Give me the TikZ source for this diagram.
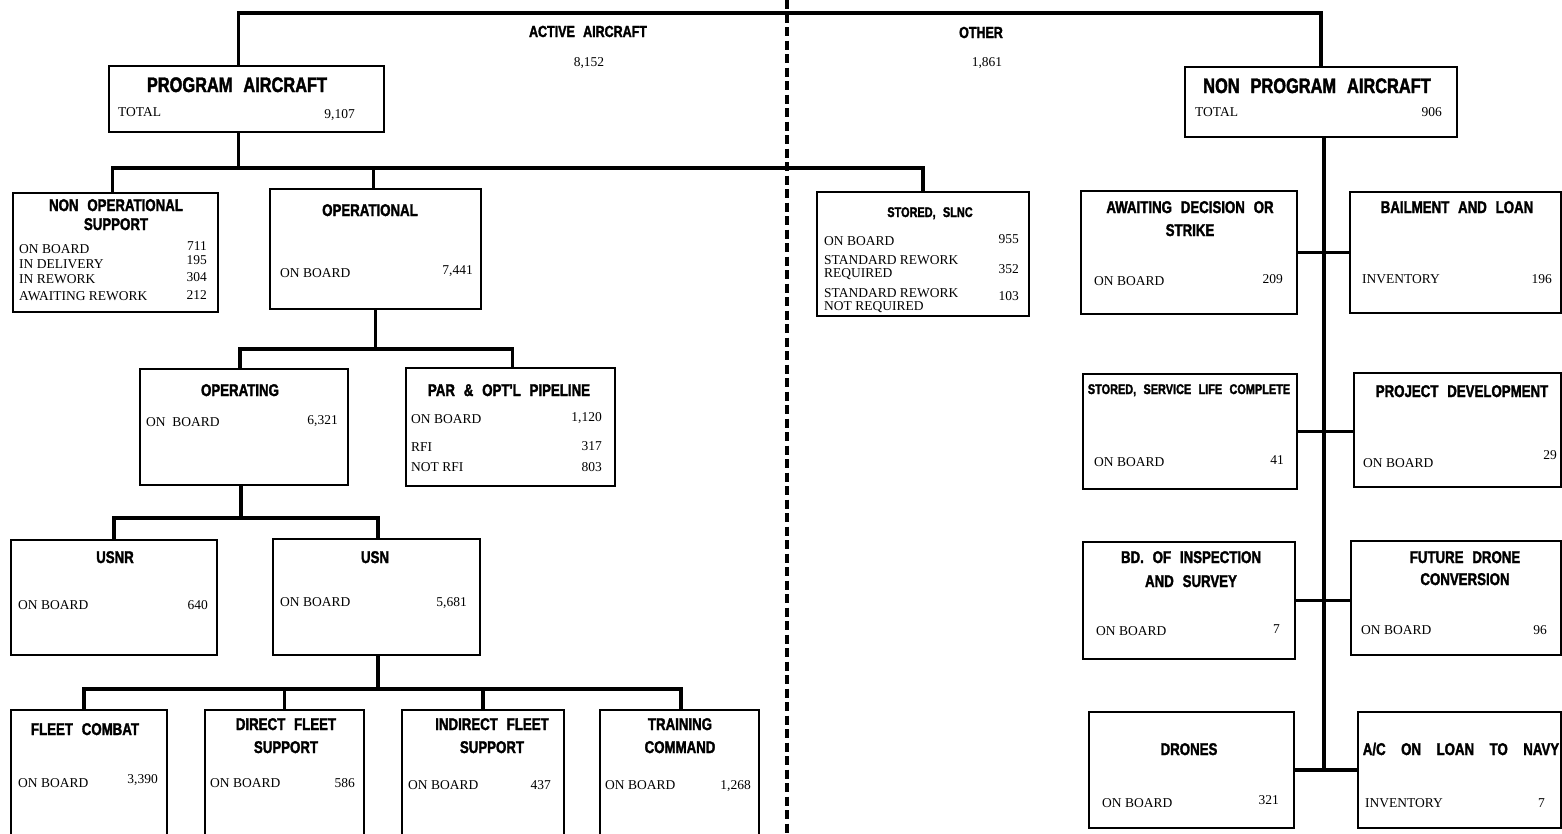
\documentclass[tikz,border=0pt]{standalone}
\usepackage{fontspec}
\setmainfont{Liberation Serif}
\newfontfamily\hdfont[FakeStretch=0.78,WordSpace=2.4,FakeBold=1.8]{Liberation Sans}

\begin{document}
\begin{tikzpicture}[
      x=1pt, y=-1pt, % Pixelraster, y nach unten
      box/.style={draw, line width=1.8pt, inner sep=0pt}, % Kasten
      bus/.style={line width=3.8pt}, % Verbindungslinien
      trenn/.style={line width=3.4pt, dash pattern=on 9pt off 4.5pt}, % Trennlinie
      hd/.style={font=\hdfont\bfseries\fontsize{17}{17}\selectfont, inner sep=0pt, anchor=base},
      bighd/.style={hd, font=\hdfont\bfseries\fontsize{21}{21}\selectfont},
      midhd/.style={hd, font=\hdfont\bfseries\fontsize{16}{16}\selectfont},
      smallhd/.style={hd, font=\hdfont\bfseries\fontsize{14}{14}\selectfont},
      lbl/.style={font=\fontsize{13.5}{13.5}\selectfont, inner sep=0pt, anchor=base west},
      val/.style={lbl, anchor=base east},
      ctr/.style={lbl, anchor=base},
    ]

    \useasboundingbox (0,0) rectangle (1562,833);
    \clip (0,0) rectangle (1562,833);

    % Koordinaten
    \coordinate (topbus) at (0,13);
    \coordinate (busA) at (0,168);
    \coordinate (busB) at (0,349);
    \coordinate (busC) at (0,518);
    \coordinate (busD) at (0,689);
    \coordinate (trennO) at (787,0);
    \coordinate (trennU) at (787,833);

    % Kaesten
    \node[box, minimum width=275, minimum height=66] (prog) at (246.5,99) {};
    \node[box, minimum width=272, minimum height=70] (nonprog) at (1321,102) {};
    \node[box, minimum width=205, minimum height=119] (nonop) at (115.5,252.5) {};
    \node[box, minimum width=211, minimum height=120] (oper) at (375.5,249) {};
    \node[box, minimum width=212, minimum height=124] (slnc) at (923,254) {};
    \node[box, minimum width=208, minimum height=116] (operating) at (244,427) {};
    \node[box, minimum width=209, minimum height=118] (par) at (510.5,427) {};
    \node[box, minimum width=206, minimum height=115] (usnr) at (114,597.5) {};
    \node[box, minimum width=207, minimum height=116] (usn) at (376.5,597) {};
    \node[box, minimum width=156, minimum height=150] (fleet) at (89,785) {};
    \node[box, minimum width=159, minimum height=150] (direct) at (284.5,785) {};
    \node[box, minimum width=162, minimum height=150] (indirect) at (483,785) {};
    \node[box, minimum width=159, minimum height=150] (training) at (679.5,785) {};
    \node[box, minimum width=216, minimum height=123] (awaiting) at (1189,252.5) {};
    \node[box, minimum width=211, minimum height=121] (bailment) at (1455.5,252.5) {};
    \node[box, minimum width=214, minimum height=115] (sslc) at (1190,431.5) {};
    \node[box, minimum width=207, minimum height=114] (projdev) at (1457.5,430) {};
    \node[box, minimum width=212, minimum height=117] (bd) at (1189,600.5) {};
    \node[box, minimum width=210, minimum height=114] (future) at (1456,598) {};
    \node[box, minimum width=205, minimum height=116] (drones) at (1191.5,770) {};
    \node[box, minimum width=203, minimum height=116] (acloan) at (1459.5,770) {};

    % Verbindungen
    \draw[bus] ([xshift=-8]prog.north) |- (topbus -| nonprog.north) -- (nonprog.north);
    \draw[bus] ([xshift=-8]prog.south) -- ([xshift=-8]prog.south |- busA);
    \draw[bus] ([xshift=-3]nonop.north) |- (busA -| slnc.north) -- (slnc.north);
    \draw[bus] ([xshift=-2]oper.north) -- ([xshift=-2]oper.north |- busA);
    \draw[bus] (oper.south) -- (oper.south |- busB);
    \draw[bus] ([xshift=-4]operating.north) |- ([xshift=2]busB -| par.north) -- ([xshift=2]par.north);
    \draw[bus] ([xshift=-3]operating.south) -- ([xshift=-3]operating.south |- busC);
    \draw[bus] (usnr.north) |- ([xshift=1.5]busC -| usn.north) -- ([xshift=1.5]usn.north);
    \draw[bus] ([xshift=1.5]usn.south) -- ([xshift=1.5]usn.south |- busD);
    \draw[bus] ([xshift=-5]fleet.north) |- ([xshift=1.5]busD -| training.north) -- ([xshift=1.5]training.north);
    \foreach \k in {direct, indirect}
    \draw[bus] (\k.north) -- (\k.north |- busD);
    \draw[bus] ([xshift=3]nonprog.south) -- ([xshift=3]nonprog.south |- drones.east);
    \foreach \a/\b in {awaiting/bailment, sslc/projdev, bd/future, drones/acloan}
    \draw[bus] (\a.east) -- (\a.east -| \b.west);
    \draw[trenn] (trennO) -- (trennU);

    % Oben
    \node[midhd] (aktiv) at (588,37) {ACTIVE AIRCRAFT};
    \node[ctr] (aktivn) at (589,66) {8,152};
    \node[midhd] (andere) at (981,38) {OTHER};
    \node[ctr] (anderen) at (987,66) {1,861};

    \node[bighd] (prog-h) at (237,92) {PROGRAM AIRCRAFT};
    \node[lbl] (prog-l) at (118,116) {TOTAL};
    \node[val] (prog-v) at (355,118) {9,107};
    \node[bighd] (nonprog-h) at (1317,93) {NON PROGRAM AIRCRAFT};
    \node[lbl] (nonprog-l) at (1195,116) {TOTAL};
    \node[val] (nonprog-v) at (1442,116) {906};

    % Programm
    \node[hd] (nonop-h1) at (116,211) {NON OPERATIONAL};
    \node[hd] (nonop-h2) at (116,230) {SUPPORT};
    \node[lbl] (nonop-l1) at (19,253) {ON BOARD};
    \node[lbl] (nonop-l2) at (19,268) {IN DELIVERY};
    \node[lbl] (nonop-l3) at (19,283) {IN REWORK};
    \node[lbl] (nonop-l4) at (19,300) {AWAITING REWORK};
    \node[val] (nonop-v1) at (207,250) {711};
    \node[val] (nonop-v2) at (207,264) {195};
    \node[val] (nonop-v3) at (207,281) {304};
    \node[val] (nonop-v4) at (207,299) {212};

    \node[hd] (oper-h) at (370,216) {OPERATIONAL};
    \node[lbl] (oper-l) at (280,277) {ON BOARD};
    \node[val] (oper-v) at (473,274) {7,441};

    \node[smallhd] (slnc-h) at (930,217) {STORED, SLNC};
    \node[lbl] (slnc-l1) at (824,245) {ON BOARD};
    \node[lbl] (slnc-l2) at (824,264) {STANDARD REWORK};
    \node[lbl] (slnc-l3) at (824,277) {REQUIRED};
    \node[lbl] (slnc-l4) at (824,297) {STANDARD REWORK};
    \node[lbl] (slnc-l5) at (824,310) {NOT REQUIRED};
    \node[val] (slnc-v1) at (1019,243) {955};
    \node[val] (slnc-v2) at (1019,273) {352};
    \node[val] (slnc-v3) at (1019,300) {103};

    \node[hd] (operating-h) at (240,396) {OPERATING};
    \node[lbl] (operating-l) at (146,426) {ON\ \ BOARD};
    \node[val] (operating-v) at (338,424) {6,321};

    \node[hd] (par-h) at (509,396) {PAR \& OPT'L PIPELINE};
    \node[lbl] (par-l1) at (411,423) {ON BOARD};
    \node[lbl] (par-l2) at (411,451) {RFI};
    \node[lbl] (par-l3) at (411,471) {NOT RFI};
    \node[val] (par-v1) at (602,421) {1,120};
    \node[val] (par-v2) at (602,450) {317};
    \node[val] (par-v3) at (602,471) {803};

    \node[hd] (usnr-h) at (115,563) {USNR};
    \node[lbl] (usnr-l) at (18,609) {ON BOARD};
    \node[val] (usnr-v) at (208,609) {640};
    \node[hd] (usn-h) at (375,563) {USN};
    \node[lbl] (usn-l) at (280,606) {ON BOARD};
    \node[val] (usn-v) at (467,606) {5,681};

    \node[hd] (fleet-h) at (85,735) {FLEET COMBAT};
    \node[lbl] (fleet-l) at (18,787) {ON BOARD};
    \node[val] (fleet-v) at (158,783) {3,390};
    \node[hd] (direct-h1) at (286,730) {DIRECT FLEET};
    \node[hd] (direct-h2) at (286,753) {SUPPORT};
    \node[lbl] (direct-l) at (210,787) {ON BOARD};
    \node[val] (direct-v) at (355,787) {586};
    \node[hd] (indirect-h1) at (492,730) {INDIRECT FLEET};
    \node[hd] (indirect-h2) at (492,753) {SUPPORT};
    \node[lbl] (indirect-l) at (408,789) {ON BOARD};
    \node[val] (indirect-v) at (551,789) {437};
    \node[hd] (training-h1) at (680,730) {TRAINING};
    \node[hd] (training-h2) at (680,753) {COMMAND};
    \node[lbl] (training-l) at (605,789) {ON BOARD};
    \node[val] (training-v) at (751,789) {1,268};

    % Nicht-Programm
    \node[hd] (awaiting-h1) at (1190,213) {AWAITING DECISION OR};
    \node[hd] (awaiting-h2) at (1190,236) {STRIKE};
    \node[lbl] (awaiting-l) at (1094,285) {ON BOARD};
    \node[val] (awaiting-v) at (1283,283) {209};
    \node[hd] (bailment-h) at (1457,213) {BAILMENT AND LOAN};
    \node[lbl] (bailment-l) at (1362,283) {INVENTORY};
    \node[val] (bailment-v) at (1552,283) {196};

    \node[smallhd] (sslc-h) at (1189,394) {STORED, SERVICE LIFE COMPLETE};
    \node[lbl] (sslc-l) at (1094,466) {ON BOARD};
    \node[val] (sslc-v) at (1284,464) {41};
    \node[hd] (projdev-h) at (1462,397) {PROJECT DEVELOPMENT};
    \node[lbl] (projdev-l) at (1363,467) {ON BOARD};
    \node[val] (projdev-v) at (1557,459) {29};

    \node[hd] (bd-h1) at (1191,563) {BD. OF INSPECTION};
    \node[hd] (bd-h2) at (1191,587) {AND SURVEY};
    \node[lbl] (bd-l) at (1096,635) {ON BOARD};
    \node[val] (bd-v) at (1280,633) {7};
    \node[hd] (future-h1) at (1465,563) {FUTURE DRONE};
    \node[hd] (future-h2) at (1465,585) {CONVERSION};
    \node[lbl] (future-l) at (1361,634) {ON BOARD};
    \node[val] (future-v) at (1547,634) {96};

    \node[hd] (drones-h) at (1189,755) {DRONES};
    \node[lbl] (drones-l) at (1102,807) {ON BOARD};
    \node[val] (drones-v) at (1279,804) {321};
    \node[hd] (acloan-h) at (1461,755) {\spaceskip=15.5pt A/C ON LOAN TO NAVY};
    \node[lbl] (acloan-l) at (1365,807) {INVENTORY};
    \node[val] (acloan-v) at (1545,807) {7};

  \end{tikzpicture}
\end{document}
